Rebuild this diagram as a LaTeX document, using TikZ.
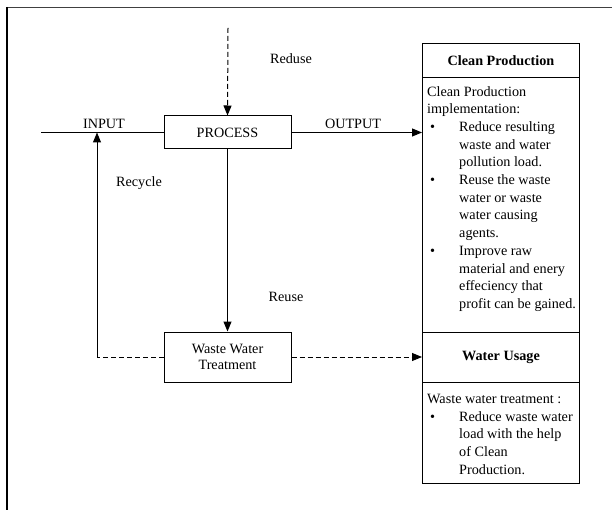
\documentclass[tikz,border=0pt]{standalone}
\usepackage{fontspec}
\setmainfont{Liberation Serif}
\usetikzlibrary{arrows.meta}
\newcommand{\bul}{\makebox[32pt][l]{\hspace{3pt}\textbullet}}
\newcommand{\ind}{\hspace*{32pt}}
\begin{document}
\begin{tikzpicture}[x=1pt,y=-1pt,
  txt/.style={font=\fontsize{14.2}{17.7}\selectfont, inner sep=0pt},
  box/.style={draw, line width=1pt, minimum width=127pt, inner sep=0pt, txt},
  panel/.style={draw, line width=1pt, anchor=north west, minimum width=157pt, inner sep=0pt},
  arr/.style={line width=1pt, -{Triangle[length=10pt,width=8pt]}},
  dsh/.style={line width=1pt, dash pattern=on 5pt off 3pt},
  body/.style={txt, align=left, anchor=north west, font=\fontsize{14.2}{17.7}\selectfont}
]
\useasboundingbox (0,0) rectangle (612,510);
\fill[white] (0,0) rectangle (612,510);
% outer frame
\draw[line width=1.5pt, black!75] (7,7.5) -- (615,7.5);
\draw[line width=1.2pt] (7,7) -- (7,515);

% process boxes
\node[box, minimum height=33pt] (proc) at (227.5,132.5) {PROCESS};
\node[box, minimum height=50pt, align=center, font=\fontsize{14.2}{16.5}\selectfont] (wwt) at (227.5,357) {Waste Water\\Treatment};

% right panels
\node[panel, minimum height=34pt] (cph) at (422,43) {};
\node[panel, minimum height=255pt] (cpb) at (422,77) {};
\node[panel, minimum height=50pt] (wuh) at (422,332) {};
\node[panel, minimum height=101pt] (wub) at (422,382) {};
\node[txt, font=\fontsize{14.2}{17.7}\selectfont\bfseries] (cpht) at (cph.center) {Clean Production};
\node[txt, font=\fontsize{14.2}{17.7}\selectfont\bfseries] (wuht) at (wuh.center) {Water Usage};

\node[body] (cpbt) at (427,86) {Clean Production\\implementation:\\\bul Reduce resulting\\\ind waste and water\\\ind pollution load.\\\bul Reuse the waste\\\ind water or waste\\\ind water causing\\\ind agents.\\\bul Improve raw\\\ind material and enery\\\ind effeciency that\\\ind profit can be gained.};
\node[body] (wubt) at (427,394) {Waste water treatment :\\\bul Reduce waste water\\\ind load with the help\\\ind of Clean\\\ind Production.};

% coordinates
\coordinate (top) at (228,28);
\coordinate (in) at (41,132.5);
\coordinate (rc) at (97,357);

% connectors
\draw[arr, dsh] (top) -- (proc.north);
\draw[line width=1pt] (in) -- (proc.west);
\draw[arr] (proc.east) -- (proc.east -| cpb.west);
\draw[arr] (proc.south) -- (wwt.north);
\draw[dsh] (wwt.west) -- (rc);
\draw[arr] (rc) -- (rc |- in);
\draw[arr, dsh] (wwt.east) -- (wwt.east -| wuh.west);

% labels
\node[txt] (l1) at (291,59) {Reduse};
\node[txt] (l2) at (104,124) {INPUT};
\node[txt] (l3) at (353,124) {OUTPUT};
\node[txt] (l4) at (139,183) {Recycle};
\node[txt] (l5) at (286,297) {Reuse};
\end{tikzpicture}
\end{document}
